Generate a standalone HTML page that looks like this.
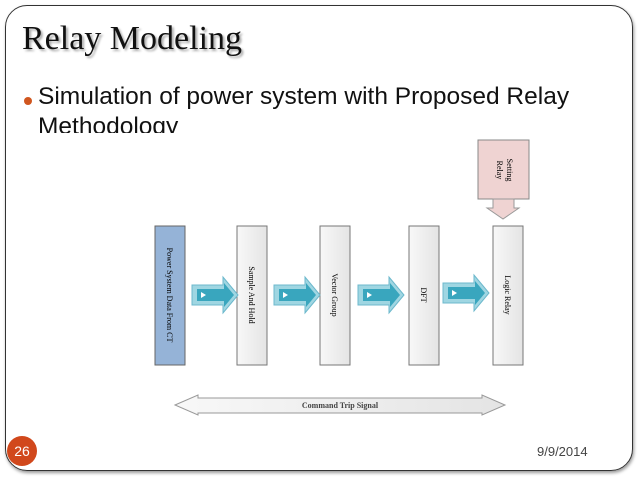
<!DOCTYPE html>
<html><head><style>
body{margin:0;width:638px;height:479px;background:#fff;position:relative;overflow:hidden;font-family:"Liberation Sans",sans-serif}
.frame{position:absolute;left:5px;top:5px;width:626px;height:464px;border:1.5px solid #333;border-radius:22px;box-shadow:1px 2px 3px #999}
.title{position:absolute;left:22px;top:20px;font-family:"Liberation Serif",serif;font-size:34px;color:#111;text-shadow:2px 2px 2px #aaa;transform:scaleX(1.0);transform-origin:left}
.b{position:absolute;left:38px;font-size:24.5px;color:#111;white-space:nowrap}
.dot{position:absolute;left:24px;top:97px;width:8px;height:8px;border-radius:50%;background:#d0561f}
.num{position:absolute;left:7px;top:436px;width:30px;height:30px;border-radius:50%;background:#d1481c;color:#fff;font-size:14px;text-align:center;line-height:30px}
.date{position:absolute;left:537px;top:444px;font-size:13px;color:#444}
</style></head><body>
<div class="frame"></div>
<div class="title">Relay Modeling</div>
<div class="dot"></div>
<div class="b" style="top:83px">Simulation of power system with Proposed Relay</div>
<div style="position:absolute;left:0;top:110px;width:638px;height:23px;overflow:hidden"><div class="b" style="top:3px">Methodology</div></div>
<svg width="638" height="479" style="position:absolute;left:0;top:0" font-family="Liberation Serif,serif" font-size="8">
<defs><linearGradient id="g" x1="0" x2="1"><stop offset="0" stop-color="#f8f8f8"/><stop offset="1" stop-color="#e4e4e4"/></linearGradient>
<g id="ar"><polygon points="0,-10 31,-10 31,-18 46,0 31,18 31,10 0,10" fill="#9fd6e2" stroke="#6cb8cc"/><polygon points="5,-6 32,-6 32,-12 42,0 32,12 32,6 5,6" fill="#39a6be"/><polygon points="9,-3 14,0 9,3" fill="#fff"/></g></defs>
<rect x="155" y="226" width="30" height="139" fill="#95b3d7" stroke="#666"/>
<rect x="237" y="226" width="30" height="139" fill="url(#g)" stroke="#777"/>
<rect x="320" y="226" width="30" height="139" fill="url(#g)" stroke="#777"/>
<rect x="409" y="226" width="30" height="139" fill="url(#g)" stroke="#777"/>
<rect x="493" y="226" width="30" height="139" fill="url(#g)" stroke="#777"/>
<text transform="translate(167,295) rotate(90)" text-anchor="middle">Power System Data From CT</text>
<text transform="translate(249,295) rotate(90)" text-anchor="middle">Sample And Hold</text>
<text transform="translate(332,295) rotate(90)" text-anchor="middle">Vector Group</text>
<text transform="translate(421,295) rotate(90)" text-anchor="middle">DFT</text>
<text transform="translate(505,295) rotate(90)" text-anchor="middle">Logic Relay</text>
<use href="#ar" x="192" y="295"/><use href="#ar" x="274" y="295"/><use href="#ar" x="358" y="295"/><use href="#ar" x="443" y="293"/>
<rect x="478" y="140" width="51" height="59" fill="#efd3d2" stroke="#888"/>
<text transform="translate(497,170) rotate(90)" text-anchor="middle">Relay</text>
<text transform="translate(507,170) rotate(90)" text-anchor="middle">Setting</text>
<polygon points="493,199 514,199 514,208 519,208 503,219 487,208 493,208" fill="#efd3d2" stroke="#999"/>
<polygon points="175,405 198,395 198,398 482,398 482,395 505,405 482,415 482,413 198,413 198,415" fill="url(#g)" stroke="#999"/>
<text x="340" y="408" text-anchor="middle" font-size="8" font-weight="bold" fill="#444">Command Trip Signal</text>
</svg>
<div class="num">26</div>
<div class="date">9/9/2014</div>
</body></html>
